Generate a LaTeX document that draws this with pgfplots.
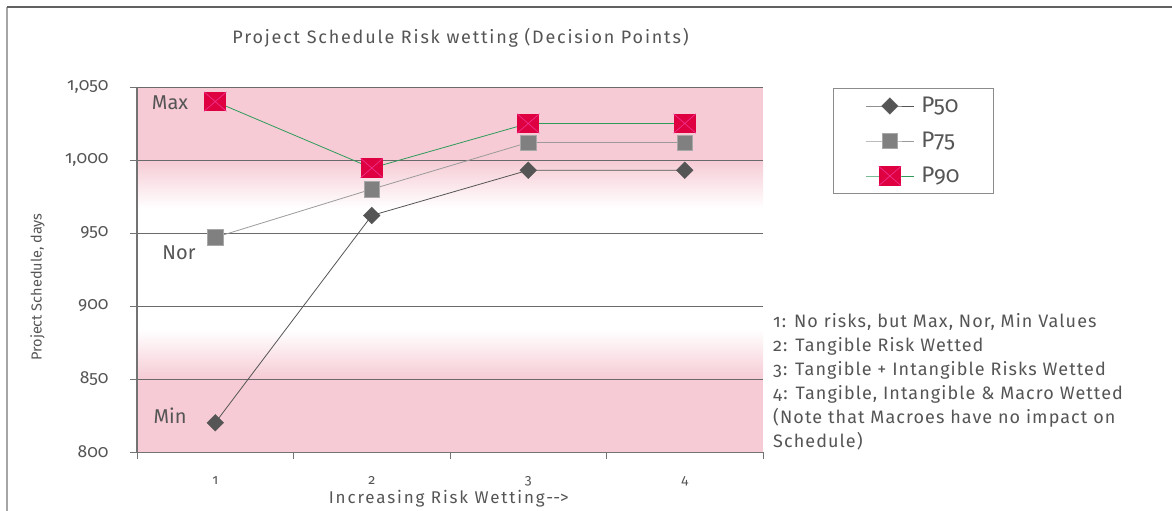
\documentclass[border=0pt]{standalone}
\usepackage{pgfplots}
\pgfplotsset{compat=1.18}
\usepackage{fontspec}
\setmainfont{Fira Sans}[Numbers=OldStyle]
\definecolor{txt}{HTML}{555555}
\definecolor{pinkbg}{HTML}{F6CBD5}
\definecolor{p50}{HTML}{555555}
\definecolor{p75}{HTML}{808080}
\definecolor{p75edge}{HTML}{A8A8A8}
\definecolor{p75line}{HTML}{9A9A9A}
\definecolor{p90}{HTML}{DE0040}
\definecolor{p90x}{HTML}{F0308C}
\definecolor{p90line}{HTML}{2E9B5A}
\definecolor{gridc}{HTML}{6A6A6A}
\pgfdeclareplotmark{sqx}{%
 \pgfpathrectangle{\pgfqpoint{-1.15\pgfplotmarksize}{-\pgfplotmarksize}}{\pgfqpoint{2.3\pgfplotmarksize}{2\pgfplotmarksize}}%
 \pgfsetfillcolor{p90}\pgfusepathqfill
 \pgfsetstrokecolor{p90x}\pgfsetlinewidth{0.7pt}%
 \pgfpathmoveto{\pgfqpoint{-1.15\pgfplotmarksize}{-\pgfplotmarksize}}\pgfpathlineto{\pgfqpoint{1.15\pgfplotmarksize}{\pgfplotmarksize}}%
 \pgfpathmoveto{\pgfqpoint{-1.15\pgfplotmarksize}{\pgfplotmarksize}}\pgfpathlineto{\pgfqpoint{1.15\pgfplotmarksize}{-\pgfplotmarksize}}%
 \pgfusepathqstroke}
\pgfplotstableread{
x y
1 820
2 962
3 993
4 993
}\pfifty
\pgfplotstableread{
x y
1 947
2 980
3 1012
4 1012
}\pseventyfive
\pgfplotstableread{
x y
1 1040
2 994.5
3 1025
4 1025
}\pninety
\begin{document}
\begin{tikzpicture}
\path[use as bounding box] (0pt,0pt) rectangle (1172pt,-511pt);
\draw[color=black!35, line width=1.6pt] (7pt,-511pt) -- (7pt,-7pt);
\draw[color=black!62, line width=1.2pt] (7pt,-7pt) -- (1172pt,-7pt);
% background bands (decoration), axis spans x 137..763, y -452 (800) .. -87 (1050)
\fill[pinkbg] (137pt,-160pt) rectangle (763pt,-87pt);
\shade[top color=pinkbg, bottom color=white] (137pt,-208.2pt) rectangle (763pt,-160pt);
\fill[pinkbg] (137pt,-452pt) rectangle (763pt,-379pt);
\shade[top color=white, bottom color=pinkbg] (137pt,-379pt) rectangle (763pt,-329.4pt);
\node[text=txt] at (460.5pt,-38pt) {\addfontfeature{LetterSpace=10}\fontsize{18}{21}\selectfont Project Schedule Risk wetting (Decision Points)};
\node[text=txt, anchor=north west, align=left, inner sep=0pt, font=\fontsize{18}{24}\selectfont\addfontfeature{LetterSpace=6}] at (773pt,-313pt) {1: No risks, but Max, Nor, Min Values\\2: Tangible Risk Wetted\\3: Tangible + Intangible Risks Wetted\\4: Tangible, Intangible \& Macro Wetted\\(Note that Macroes have no impact on\\Schedule)};
\begin{axis}[
  at={(137pt,-452pt)}, anchor=south west,
  scale only axis, width=626pt, height=365pt,
  xmin=0.5, xmax=4.5, ymin=800, ymax=1050,
  axis x line=bottom, axis y line=left,
  axis line style={-, color=black!55, line width=1pt},
  xtick={0.5,1.5,2.5,3.5,4.5}, xticklabels={},
  extra x ticks={1,2,3,4}, extra x tick labels={1,2,3,4},
  extra x tick style={major tick length=0pt, xticklabel style={font=\fontsize{14}{16}\selectfont, text=txt, yshift=-21pt}},
  ytick={800,850,900,950,1000,1050},
  tick align=outside, major tick length=7pt,
  tick style={color=black!55, line width=0.8pt},
  ymajorgrids, grid style={color=gridc, line width=0.8pt},
  /pgf/number format/.cd, 1000 sep={,}, assume math mode=true, /pgfplots/.cd,
  yticklabel style={font=\fontsize{17.5}{19}\selectfont, text=txt, xshift=-18pt},
  xlabel={\addfontfeature{LetterSpace=11}Increasing Risk Wetting-\kern0pt-\kern0pt>},
  xlabel style={font=\fontsize{17}{19}\selectfont, text=txt, at={(axis description cs:0.498,-0.128)}, anchor=center},
  ylabel={Project Schedule, days},
  ylabel style={font=\fontsize{14.5}{16}\selectfont, text=txt, at={(axis description cs:-0.159,0.452)}, anchor=center},
  legend style={at={(1.1118,0.9973)}, anchor=north west, draw=black!45, line width=1pt,
    font=\fontsize{22.5}{24}\selectfont, text=txt, inner xsep=32pt, inner ysep=7pt, row sep=14pt,
    cells={anchor=west}},
  legend image code/.code={\draw[mark repeat=2,mark phase=2] plot coordinates {(0pt,0pt)(24pt,0pt)(48pt,0pt)};},
]
\addplot[color=p50, line width=0.8pt, mark=square*, mark size=5.9pt, mark options={rotate=45, fill=p50, draw=p50, line width=0.3pt}] table[x=x,y=y] {\pfifty};
\addlegendentry{\kern5pt P50}
\addplot[color=p75line, line width=0.8pt, mark=square*, mark size=7.6pt, mark options={fill=p75, draw=p75edge, line width=0.6pt}] table[x=x,y=y] {\pseventyfive};
\addlegendentry{\kern5pt P75}
\addplot[color=p90line, line width=0.8pt, mark=sqx, mark size=9.7pt] table[x=x,y=y] {\pninety};
\addlegendentry{\kern5pt P90}
\node[text=txt, font=\fontsize{20}{22}\selectfont] at (axis cs:0.711,1039) {Max};
\node[text=txt, font=\fontsize{20}{22}\selectfont] at (axis cs:0.768,936.3) {Nor};
\node[text=txt, font=\fontsize{20}{22}\selectfont] at (axis cs:0.711,824.7) {Min};
\end{axis}
\end{tikzpicture}
\end{document}
